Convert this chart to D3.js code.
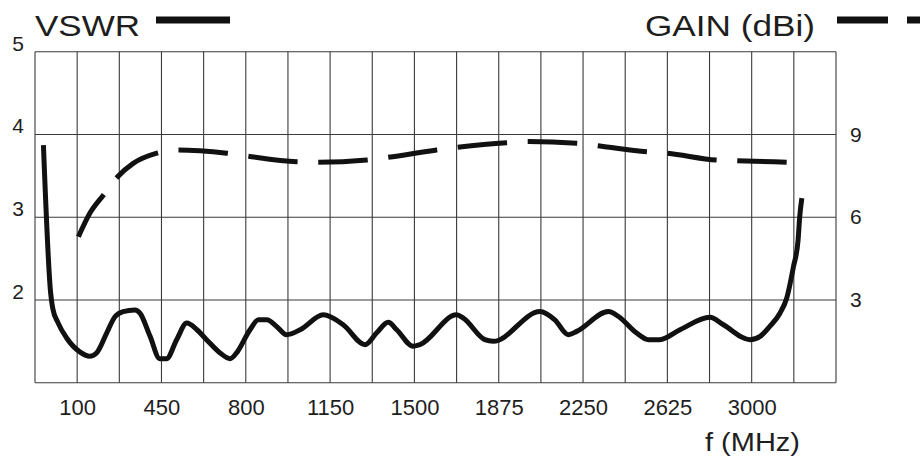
<!DOCTYPE html>
<html>
<head>
<meta charset="utf-8">
<script src="https://cdn.jsdelivr.net/npm/d3@7"></script>
<style>
  body { margin: 0; background: #fff; }
  text { font-family: "Liberation Sans", Arial, sans-serif; fill: #1e1e1e; }
</style>
</head>
<body>
<div class="chart"></div>
<script>
// x positions are in grid columns (the frequency labels are not evenly spaced)
const xTickCols = [1, 3, 5, 7, 9, 11, 13, 15, 17];
const xTickLabels = ["100", "450", "800", "1150", "1500", "1875", "2250", "2625", "3000"];
const vswrTicks = [2, 3, 4, 5];
const gainTicks = [3, 6, 9];

const vswrCol = [0.20, 0.37, 0.42, 0.55, 0.75, 1.07, 1.30, 1.46, 1.70, 1.90, 2.09, 2.37, 2.49, 2.73, 2.96,
  3.12, 3.36, 3.60, 3.84, 4.07, 4.39, 4.63, 4.78, 5.10, 5.30, 5.50, 5.73, 5.97, 6.29, 6.84, 7.31,
  7.83, 8.10, 8.38, 8.58, 8.97, 9.13, 10.00, 10.16, 10.67, 10.87, 11.98, 12.33, 12.65, 12.85,
  13.60, 13.84, 14.27, 14.55, 14.82, 15.30, 16.01, 16.33, 16.96, 17.20, 17.43, 17.67, 17.83,
  17.99, 18.10, 18.14, 18.19];
const vswrVal = [3.87, 2.09, 1.90, 1.72, 1.54, 1.37, 1.32, 1.36, 1.60, 1.80, 1.86, 1.88, 1.84, 1.56, 1.29,
  1.29, 1.52, 1.72, 1.64, 1.52, 1.36, 1.29, 1.36, 1.64, 1.76, 1.76, 1.68, 1.58, 1.64, 1.82, 1.70,
  1.46, 1.60, 1.73, 1.64, 1.44, 1.46, 1.82, 1.78, 1.52, 1.50, 1.86, 1.76, 1.58, 1.62,
  1.86, 1.80, 1.60, 1.52, 1.52, 1.64, 1.79, 1.70, 1.52, 1.56, 1.68, 1.84, 2.02,
  2.40, 2.72, 3.01, 3.23];

const gainCol = [1.03, 1.30, 1.62, 1.90, 2.33, 2.89, 3.40, 3.91, 4.55, 5.02, 6.21, 6.72, 7.87, 8.38,
  9.53, 10.00, 11.19, 11.70, 12.85, 13.40, 14.51, 14.98, 16.17, 16.64, 17.83];
const gainVal = [5.29, 6.14, 6.80, 7.37, 7.95, 8.32, 8.44, 8.41, 8.32, 8.22, 8.01, 7.99, 8.07, 8.17,
  8.44, 8.53, 8.70, 8.74, 8.68, 8.58, 8.37, 8.32, 8.07, 8.05, 7.99];

const width = 920, height = 457;
const margin = { top: 51.7, right: 84, bottom: 74.3, left: 35 };

const svg = d3.select(".chart").append("svg")
  .attr("width", width)
  .attr("height", height);

const x = d3.scaleLinear().domain([0, 19]).range([margin.left, width - margin.right]);
const yV = d3.scaleLinear().domain([1, 5]).range([height - margin.bottom, margin.top]);
const yG = d3.scaleLinear().domain([0, 12]).range([height - margin.bottom, margin.top]);

// grid
const grid = svg.append("g").attr("stroke", "#3a3a3a").attr("stroke-width", 1.1);
grid.selectAll("line.v").data(d3.range(0, 20)).join("line")
  .attr("x1", d => x(d)).attr("x2", d => x(d))
  .attr("y1", yV(1)).attr("y2", yV(5));
grid.selectAll("line.h").data(d3.range(1, 6)).join("line")
  .attr("y1", d => yV(d)).attr("y2", d => yV(d))
  .attr("x1", x(0)).attr("x2", x(19));

// axes (labels only)
const xAxis = svg.append("g")
  .attr("transform", "translate(0," + yV(1) + ")")
  .call(d3.axisBottom(x).tickValues(xTickCols).tickFormat((d, i) => xTickLabels[i]).tickSize(0).tickPadding(17));
xAxis.select(".domain").remove();
xAxis.selectAll("text").attr("font-size", 22).attr("fill", "#1e1e1e");

const yAxisL = svg.append("g")
  .attr("transform", "translate(" + x(0) + ",0)")
  .call(d3.axisLeft(yV).tickValues(vswrTicks).tickFormat(d3.format("d")).tickSize(0).tickPadding(11));
yAxisL.select(".domain").remove();
yAxisL.selectAll("text").attr("font-size", 21).attr("dy", "-0.08em").attr("fill", "#1e1e1e");

const yAxisR = svg.append("g")
  .attr("transform", "translate(" + x(19) + ",0)")
  .call(d3.axisRight(yG).tickValues(gainTicks).tickFormat(d3.format("d")).tickSize(0).tickPadding(14));
yAxisR.select(".domain").remove();
yAxisR.selectAll("text").attr("font-size", 21).attr("fill", "#1e1e1e");

// curves
const vswrLine = d3.line()
  .x((d, i) => x(vswrCol[i]))
  .y(d => yV(d))
  .curve(d3.curveMonotoneX);

const gainLine = d3.line()
  .x((d, i) => x(gainCol[i]))
  .y(d => yG(d))
  .curve(d3.curveMonotoneX);

const gainPath = svg.append("path")
  .datum(gainVal)
  .attr("d", gainLine)
  .attr("fill", "none")
  .attr("stroke", "#111")
  .attr("stroke-width", 5);

// 11 dashes and 10 gaps, so the curve ends on a full dash
const len = gainPath.node().getTotalLength();
const unit = len / (11 * 48 + 10 * 20);
gainPath.attr("stroke-dasharray", (48 * unit) + "," + (20 * unit));

svg.append("path")
  .datum(vswrVal)
  .attr("d", vswrLine)
  .attr("fill", "none")
  .attr("stroke", "#111")
  .attr("stroke-width", 5)
  .attr("stroke-linejoin", "round");

// legends and titles
svg.append("text").attr("x", 35).attr("y", 36)
  .attr("font-size", 30).attr("textLength", 105).attr("lengthAdjust", "spacingAndGlyphs")
  .text("VSWR");
svg.append("line").attr("x1", 156).attr("x2", 230).attr("y1", 20).attr("y2", 20)
  .attr("stroke", "#111").attr("stroke-width", 7);

svg.append("text").attr("x", 645).attr("y", 36)
  .attr("font-size", 30).attr("textLength", 170).attr("lengthAdjust", "spacingAndGlyphs")
  .text("GAIN (dBi)");
svg.append("line").attr("x1", 837).attr("x2", 925).attr("y1", 20).attr("y2", 20)
  .attr("stroke", "#111").attr("stroke-width", 7).attr("stroke-dasharray", "51,19");

svg.append("text").attr("x", 705).attr("y", 451)
  .attr("font-size", 25).attr("textLength", 95).attr("lengthAdjust", "spacingAndGlyphs")
  .text("f (MHz)");
</script>
</body>
</html>
